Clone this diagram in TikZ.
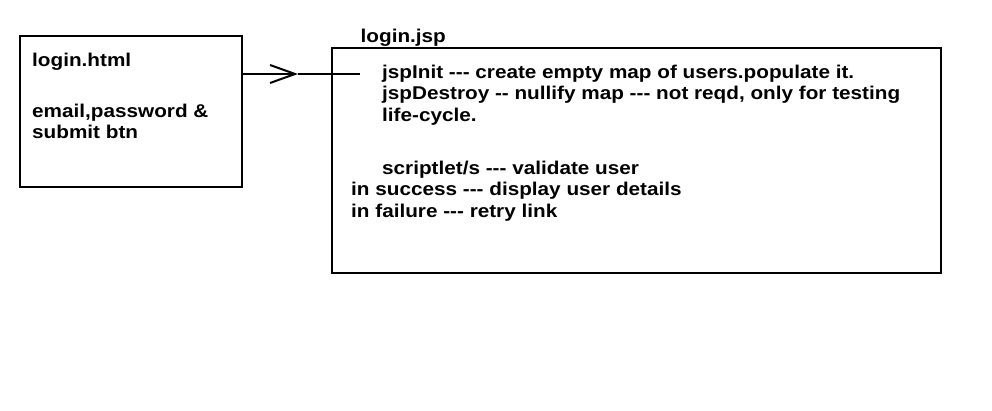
\documentclass[tikz,border=0pt]{standalone}
\usepackage{fontspec}
\setmainfont{Liberation Sans}[Ligatures=TeXOff,FakeStretch=1.12]
\usetikzlibrary{arrows.meta,positioning,calc}

\begin{document}
\begin{tikzpicture}[
  x=1pt,y=-1pt,
  box/.style={draw,line width=2pt,inner sep=0pt},
  txt/.style={inner sep=0pt,anchor=north west,align=left,
              font=\fontsize{18.5}{21.6}\selectfont\bfseries},
  ar/.style={-{Straight Barb[length=25pt,width=18pt]},line width=2pt}
]
\useasboundingbox (0,0) rectangle (992,411);

% boxes
\node[box,anchor=north west,minimum width=222pt,minimum height=151pt] (html) at (19,35) {};
\node[box,anchor=north west,minimum width=609pt,minimum height=225pt] (jsp) at (331,47) {};

% texts
\node[txt] (htmltxt) at (32,53.1) {login.html\\[29pt]email,password \&\\submit btn};
\node[txt] (jsptitle) at (360.5,28.8) {login.jsp};
\node[txt] (lifecycle) at (382,64.4) {jspInit --- create empty map of users.populate it.\\
  jspDestroy -- nullify map --- not reqd, only for testing\\life-cycle.};
\node[txt] (logic) at (351,160.6) {\hspace*{31pt}scriptlet/s --- validate user\\
  in success --- display user details\\in failure --- retry link};

% request
\coordinate (tip) at (298,74);
\coordinate (lineend) at (360,74);
\draw[ar] (html.east |- tip) -- (tip);
\draw[line width=2pt] (tip) -- (lineend);
\end{tikzpicture}
\end{document}
